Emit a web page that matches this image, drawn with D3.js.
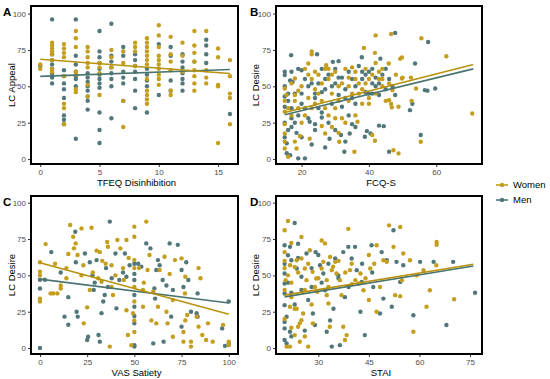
<!DOCTYPE html>
<html lang="en">
<head>
<meta charset="UTF-8">
<title>LC scatter</title>
<style>
  body { margin: 0; background: #fff; }
  svg { font-family: "Liberation Sans", Arial, sans-serif; }
  .tick text { fill: #4d4d4d; font-size: 8px; }
  .tick line { stroke: #333; }
  .frame { fill: none; stroke: #000; stroke-width: 2px; }
  .title { font-size: 9.5px; fill: #000; }
  .tag { font-size: 11.5px; font-weight: bold; }
</style>
</head>
<body>
<script src="https://cdn.jsdelivr.net/npm/d3@7"></script>
<script>
// colours
const womenCol = '#c49e1c';
const menCol = '#52777a';

// tick values
const yTicks = [0, 25, 50, 75, 100];
const aTicks = [0, 5, 10, 15];
const bTicks = [20, 40, 60];
const cTicks = [0, 25, 50, 75, 100];
const dTicks = [30, 45, 60, 75];

// panel A: TFEQ Disinhibition vs LC Appeal
const aWomen = [[0,62],[0,65],[1,80],[1,78],[1,76],[1,74],[1,68],[1,62],[1,60],[1,72],
  [2,79],[2,76],[2,73],[2,70],[2,38],[2,35],[2,24],[2,57],
  [3,88],[3,83],[3,77],[3,48],[3,46],[3,60],[3,58],
  [4,77],[4,74],[4,70],[4,66],[4,63],[4,51],[4,43],
  [5,66],[5,63],[5,44],[5,59],[6,75],[6,70],[6,63],
  [7,74],[7,66],[7,40],[7,22],[8,80],[8,77],[8,74],[8,64],
  [9,83],[9,80],[9,77],[9,74],[9,71],[9,68],[9,65],[9,47],[9,44],[9,41],[9,38],[9,55],
  [10,92],[10,85],[10,77],[10,71],[10,68],[10,65],[10,62],[10,58],[10,55],[10,51],
  [11,84],[11,67],[11,61],[11,72],[11,47],[11,44],[12,80],[12,71],[12,60],
  [13,88],[13,78],[13,73],[13,67],[13,61],[13,57],[13,52],[13,47],
  [14,88],[14,61],[14,56],[14,52],[15,76],[15,70],[15,51],[15,50],[15,11],
  [16,68],[16,57],[16,45],[16,42],[16,24]];
const aMen = [[0,64],[1,96],[1,72],[1,68],[1,65],[1,62],[1,59],[1,56],[1,52],
  [2,61],[2,57],[2,52],[2,48],[2,42],[2,30],[2,27],[2,24],
  [3,96],[3,71],[3,65],[3,60],[3,55],[3,50],[3,14],[3,57],
  [4,59],[4,56],[4,53],[4,50],[4,47],[4,43],[4,40],[4,34],
  [5,88],[5,74],[5,70],[5,66],[5,62],[5,58],[5,55],[5,52],[5,49],[5,32],[5,20],[5,11],
  [6,93],[6,71],[6,67],[6,63],[6,59],[6,55],[6,50],[6,28],
  [7,77],[7,71],[7,60],[7,56],[7,52],[7,40],[8,72],[8,68],[8,64],[8,60],[8,55],[8,47],[8,35],
  [9,62],[9,58],[9,54],[9,50],[9,32],[10,79],[10,44],[11,77],[11,71],[11,54],[11,47],
  [12,72],[12,67],[12,63],[12,59],[12,55],[12,52],[12,47],[13,67],
  [14,82],[14,78],[14,72],[14,66],[16,31]];

// panel B: FCQ-S vs LC Desire
const bWomen = [[46.6,86],[42,85],[55.6,83],[63,70.7],[70.7,31.3],[41.8,73],[23,74],[23,72],
  [38.5,76.4],[49.3,69],[49.8,69.8],[45.9,65.7],[27.3,64.5],[22,65.7],[18,55.4],[15,48.5],
  [15.5,44],[15,32.5],[15,24],[15,17.6],[19.5,15.8],[15,7.3],[16,1.6],[18.5,7.3],[22.4,14],
  [26,22.7],[27,17.6],[31.2,11.9],[35.7,5],[36.6,25.6],[41,16.5],[41.8,12.6],[47.3,6],[48.8,3.9],
  [55.4,11.9],[52.7,40],[54,48.5],[52.5,56],[49.8,55.4],[46,40.5],[46.8,35.5],[48.8,36],[46.6,37.8],[47,47.4],
  [25,58],[27,62],[28,55],[30,60],[31,50],[33,62],[34,56],[35,45],[36,60],[37,52],[38,48],[40,55],
  [41,58],[42,45],[43,60],[44,50],[22,42],[23,35],[24,48],[26,40],[28,30],[29,45],[30,35],[32,28],
  [34,40],[36,30],[38,38],[40,42],[20,50],[21,30],[19,35],[18,44],[17,52],[24,60],[26,52],[29,22],
  [31,18],[33,25],[39,62],[42,66],[44,55],[45,40],[20,25],[23,55],
  [18,40],[19,47],[21,62],[22,58],[24,38],[25,45],[27,35],[29,58],[31,40],[32,52],[34,50],[35,63],
  [36,55],[37,45],[39,52],[40,38],[43,55],[15,40],[16,35],[17,30],[15,12],[18,12],[30,28],[28,62],
  [44,62],[48,58],[50,56],[46,52]];
const bMen = [[47.8,86.7],[57.6,80.5],[16.9,71.4],[24.6,72],[37.9,70],[53.7,65.7],[43.4,69],[29.3,66.8],
  [31,67.3],[19,62],[20,61],[15,60],[15,57.7],[16.6,54],[17.3,53],[15,43],[15,36],[17,28],[17,22],
  [18.5,18],[15.6,10.8],[15.6,4],[16.6,2.7],[19,0.5],[21,0.5],[22.4,25.6],[24,24],[26,28.6],
  [28.3,14],[31.7,16.5],[32.7,5],[34.3,17.6],[35,24],[38.8,15.3],[40.5,17.6],[39.4,19.2],[43,23],
  [44.4,22.6],[46,5],[55.4,16.5],[52.2,33.6],[52.9,38],[56.6,47.4],[57.4,47],[59.7,48.5],[47.8,44],
  [21,55],[22,50],[24,45],[25,52],[26,62],[27,48],[28,58],[29,38],[30,52],[31,44],[32,56],[33,48],
  [34,60],[35,42],[36,50],[37,64],[38,55],[39,46],[40,60],[41,52],[42,56],[43,44],[44,58],[45,62],
  [46,55],[20,38],[22,28],[24,20],[26,32],[28,25],[30,20],[32,36],[34,30],[18,45],[19,30],[16,40],
  [17,60],[15,50],[25,35],[36,22],[40,45],[42,50],[33,12],[27,8],[23,10],
  [16,45],[17,35],[18,25],[20,45],[21,35],[23,52],[24,42],[26,46],[27,55],[29,50],[30,62],[31,56],
  [33,42],[35,55],[36,38],[38,60],[41,45],[43,52],[45,48],[47,50],[15,15],[15,25],[16,20],[20,15],
  [39,58],[41,62]];

// panel C: VAS Satiety vs LC Desire
const cWomen = [[0,59],[0,52.5],[0,50],[0,34],[0,32],[3,71.5],[5.6,37.6],[7,37.6],[9.2,37.6],[8,58],
  [11,41],[11,43],[14,48],[14,55],[16,84.6],[17.6,76.6],[18,68.6],[18.9,72],[19.9,64],[15,64.7],
  [22,82.3],[23,57],[22,50],[23.2,17],[25,28],[26.4,40],[27.3,82.8],[30,67],[31.7,66],[30.8,48],
  [32.6,45.6],[35.6,73],[36,69.7],[34.8,58],[37.9,57],[37.9,42],[38.7,36.5],[37,1],[41,74.3],
  [42.6,68.6],[44,55],[44.4,46.8],[45.8,74.3],[45.8,26],[46.6,9],[48.4,2],[50,83.5],[50,76.6],
  [50,60.5],[50,55],[50,42],[50,32],[50,19],[50,11],[52.5,55],[54.6,40],[54.6,28.4],[56.3,87],
  [57,53.7],[58,64],[59,19],[60,38.8],[61.6,17],[62.5,28.4],[63.4,53.7],[66,62.8],[67,25],[67.6,17],
  [68.7,51],[70.4,7.8],[71.5,60.5],[70.4,33],[75,61.7],[77,49],[76.8,37.6],[77,19],[76,11],[76,4.4],
  [78,22.7],[80,4.4],[80,1],[83,21.5],[84,55],[85,48],[84,14.7],[86,9],[88,5.5],[89,17],[91.5,4.4],
  [97,15.8],[100,4.4],[100,2],[49.3,24],[28,52],[33,60],[40,50],[47,62],[55,45]];
const cMen = [[0,0],[0,41],[0,47],[2.6,47],[6,66],[11,52],[13,21.6],[15,16],[15,35],[18.7,80],
  [19,59],[19.4,25],[20,21.6],[23.8,65],[25,5.5],[25.5,7.8],[26.4,59],[27.8,50],[28.5,40],[30,60.5],
  [31,9],[31.7,4.4],[32.6,24],[33.5,32],[34.3,36.5],[35,55],[37,87],[38,48],[40,65],[40.5,27.3],
  [42,46.8],[45,65],[45.8,49],[47.5,57],[50,51],[50,46.8],[50,36.5],[50,28.4],[50,17],[50,2],[50,1],
  [52,58],[53.7,56],[56.3,72],[58.5,68.6],[60,3.2],[60.6,41],[61,34],[61.6,53.7],[62.5,60.5],
  [63.4,57],[65,46.8],[65.5,4.4],[67,43],[68.7,72],[69.5,21.6],[70.4,40],[73,71],[75,53.7],[76,42],
  [75,14.7],[77.5,59],[78.6,46.8],[80,25],[83,24],[83.5,37.6],[83.5,21.5],[96.5,13.5],[98,1.5],
  [100,32],[100,3],[29,45],[36,42],[44,52],[50,22],[50,58]];

// panel D: STAI vs LC Desire
const dWomen = [[21,87.4],[20,81],[22,72.3],[25,76.4],[20,66],[20,60],[21.6,57],[23,55.8],[23.6,60.4],
  [25,61.6],[26,54.7],[20.3,46.7],[20,40],[22,35],[21.6,28.4],[23,27],[23.6,27],[25.5,23.8],[25,19.2],
  [24.5,17],[24,14.6],[23,8.9],[24.5,4.3],[20.6,1],[21.6,1],[27,1],[27.5,67.3],[28.3,52.4],[29,42],
  [29.7,38.7],[31,74],[31,54.7],[31.5,59.3],[32.5,46.7],[32.5,36.4],[33,30.7],[33.5,62.7],[34,53.6],
  [35,59.3],[35.4,51.3],[36.4,46.7],[36.9,36.4],[37.9,5.5],[37.4,14.6],[38.4,8.9],[38.9,82],[39.4,53.6],
  [39.9,58],[41,46.7],[42,44.4],[42.5,51.3],[43.4,39.8],[45,64],[45,33],[45.4,54.7],[46.6,58],
  [47.3,70.7],[47.3,25],[48.3,42],[49.3,60.4],[50.3,59.3],[51,84.4],[52.3,69.6],[52.8,36.4],[54.3,83.3],
  [54.3,35.7],[54.8,46.7],[55.2,65],[57.2,60.4],[58.2,11.2],[59.2,50],[61.2,53.6],[62.1,28.4],[63.1,39.8],
  [65,57],[65.1,73],[65.1,71],[70.3,33.6],[26.5,46.7],[28.4,17],[29.4,47.8],[33.4,14.6],[34.4,56],[32,72],
  [20,55],[21,50],[22,45],[24,52],[26,40],[27,58],[28,30],[30,48],[33,42],[36,60],[38,52],[40,44],
  [44,48],[20,20],[22,14],[26,8]];
const dMen = [[23,86],[20,70.7],[20,58],[20,51.3],[20,44.4],[20,37.5],[20,29.5],[20.6,21.5],[20,13.5],
  [20,5.5],[20.6,3.2],[21.6,11.2],[22,60.4],[23.6,54.7],[24,71.8],[25,49],[26.5,65],[28,42],[28.4,23.8],
  [29,15.8],[29.2,66],[30,64],[30.5,57],[31.5,51.3],[32,39.8],[32.5,11.2],[33.5,19],[34,1],[34.5,27],
  [35,61.6],[35.9,50],[36.4,2],[37.4,66],[37.9,35],[38.9,69.6],[39.9,61.6],[40.9,69.6],[41.4,53.6],
  [42.5,25],[42.9,45.5],[43.8,8.9],[45.8,70.7],[46.3,42],[48.3,23.8],[48.8,66],[49.3,34],[50.3,60.4],
  [51.8,28.4],[52.3,81],[53.2,59.3],[54.3,45.5],[55.2,57],[58.2,22.6],[60.2,59.3],[64.2,59.3],[68,15.8],
  [70,59.3],[76.5,38],[21.6,69.6],[21,63.8],
  [21,45],[22,38],[23,30],[24,62],[25,40],[27,33],[28,55],[31,45],[33,58],[36,48],[39,42],[43,58],
  [46,52],[20,18],[22,8],[26,12]];

// fitted lines: [x start, y start, x end, y end]
const aFit = { women: [0, 68.6, 16, 58.8], men: [0, 56.8, 16, 61.6] };
const bFit = { women: [15, 32, 71, 65], men: [15, 30.5, 71, 62] };
const cFit = { women: [0, 58.7, 100, 23.3], men: [0, 47.4, 100, 31] };
const dFit = { women: [20, 36.4, 76, 57.7], men: [20, 35.2, 76, 56.5] };

const svg = d3.select('body').append('svg')
  .attr('width', 550)
  .attr('height', 379);

function panel(p) {
  const x = d3.scaleLinear().domain(p.xdom).range([p.left, p.right]);
  const y = d3.scaleLinear().domain(p.ydom).range([p.bottom, p.top]);
  const g = svg.append('g');

  g.append('g')
    .attr('transform', `translate(0,${p.bottom})`)
    .call(d3.axisBottom(x).tickValues(p.xticks).tickSize(3).tickPadding(2))
    .call(s => s.select('.domain').remove());
  g.append('g')
    .attr('transform', `translate(${p.left},0)`)
    .call(d3.axisLeft(y).tickValues(yTicks).tickSize(3).tickPadding(2))
    .call(s => s.select('.domain').remove());

  const series = [
    { pts: p.women, col: womenCol, fit: p.fit.women, lc: '#b8920e' },
    { pts: p.men, col: menCol, fit: p.fit.men, lc: '#4a7470' },
  ];
  // men drawn first, women on top roughly like the figure
  [series[1], series[0]].forEach((s) => {
    g.append('g').selectAll('circle')
      .data(s.pts)
      .join('circle')
      .attr('cx', d => x(d[0]))
      .attr('cy', d => y(d[1]))
      .attr('r', 2.2)
      .attr('fill', s.col);
  });
  [series[1], series[0]].forEach((s) => {
    g.append('line')
      .attr('x1', x(s.fit[0])).attr('y1', y(s.fit[1]))
      .attr('x2', x(s.fit[2])).attr('y2', y(s.fit[3]))
      .attr('stroke', s.lc)
      .attr('stroke-width', 1.6);
  });

  g.append('rect').attr('class', 'frame')
    .attr('x', p.left).attr('y', p.top)
    .attr('width', p.right - p.left).attr('height', p.bottom - p.top);

  g.append('text').attr('class', 'title')
    .attr('x', (p.left + p.right) / 2 + 2).attr('y', p.bottom + 22)
    .attr('text-anchor', 'middle').text(p.xlab);
  g.append('text').attr('class', 'title')
    .attr('transform', `translate(${p.ylabX},${(p.top + p.bottom) / 2}) rotate(-90)`)
    .attr('text-anchor', 'middle').attr('dy', '0.35em').text(p.ylab);
  g.append('text').attr('class', 'tag')
    .attr('x', p.tagX).attr('y', p.top + 10).text(p.tag);
}

panel({ tag: 'A', tagX: 3, left: 31, right: 238, top: 6, bottom: 164, xdom: [-0.78, 16.68], ydom: [-3.4, 105.2],
  xticks: aTicks, xlab: 'TFEQ Disinhibition', ylab: 'LC Appeal', ylabX: 12, women: aWomen, men: aMen, fit: aFit });
panel({ tag: 'B', tagX: 250, left: 276, right: 482, top: 6, bottom: 164, xdom: [12.4, 73.6], ydom: [-3.4, 105.2],
  xticks: bTicks, xlab: 'FCQ-S', ylab: 'LC Desire', ylabX: 256, women: bWomen, men: bMen, fit: bFit });
panel({ tag: 'C', tagX: 3, left: 31, right: 238, top: 196, bottom: 354, xdom: [-4.75, 104.9], ydom: [-4.1, 104.6],
  xticks: cTicks, xlab: 'VAS Satiety', ylab: 'LC Desire', ylabX: 12, women: cWomen, men: cMen, fit: cFit });
panel({ tag: 'D', tagX: 250, left: 276, right: 482, top: 196, bottom: 354, xdom: [17.45, 78.56], ydom: [-4.1, 104.6],
  xticks: dTicks, xlab: 'STAI', ylab: 'LC Desire', ylabX: 256, women: dWomen, men: dMen, fit: dFit });

// legend
const legend = svg.append('g').attr('transform', 'translate(496,185)');
[['Women', womenCol], ['Men', menCol]].forEach((d, i) => {
  const row = legend.append('g').attr('transform', `translate(0,${i * 15})`);
  row.append('line').attr('x1', 0).attr('x2', 12).attr('stroke', d[1]).attr('stroke-width', 1.6);
  row.append('circle').attr('cx', 6).attr('r', 2.2).attr('fill', d[1]);
  row.append('text').attr('x', 17).attr('dy', '0.35em').style('font-size', '9.5px').text(d[0]);
});
</script>
</body>
</html>
